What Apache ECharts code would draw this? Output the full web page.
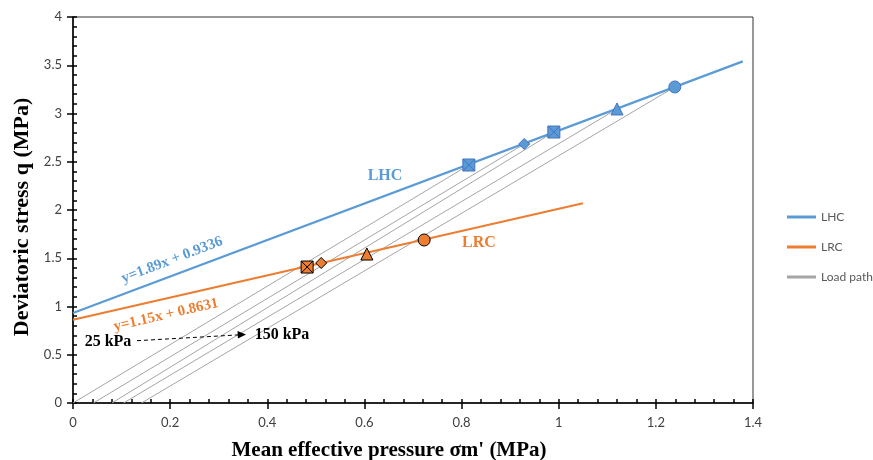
<!DOCTYPE html>
<html>
<head>
<meta charset="utf-8">
<script src="https://cdn.jsdelivr.net/npm/echarts@6/dist/echarts.min.js"></script>
<style>html,body{margin:0;padding:0;background:#fff}#c{width:873px;height:460px}</style>
</head>
<body>
<div id="c"></div>
<script>
// ---- data ----
var xTicks = [0, 0.2, 0.4, 0.6, 0.8, 1, 1.2, 1.4];
var yTicks = [0, 0.5, 1, 1.5, 2, 2.5, 3, 3.5, 4];

// fitted lines (end points)
var lhcLineX = [0, 1.379];
var lhcLineY = [0.9336, 3.540];
var lrcLineX = [0, 1.050];
var lrcLineY = [0.8631, 2.070];

// LHC failure points
var lhcX = [0.815, 0.929, 0.990, 1.120, 1.239];
var lhcY = [2.466, 2.684, 2.808, 3.047, 3.275];
var lhcShape = ['squareX', 'diamond', 'squareX', 'triangle', 'circle'];

// LRC failure points
var lrcX = [0.482, 0.511, 0.605, 0.723];
var lrcY = [1.409, 1.451, 1.544, 1.689];
var lrcShape = ['squareX', 'diamond', 'triangle', 'circle'];

// load paths: start on p axis, end at LHC points
var pathStartX = [0.000, 0.042, 0.080, 0.104, 0.141];
var pathStartY = [0, 0, 0, 0, 0];

var BLUE = '#5B9BD5', ORANGE = '#ED7D31', GRAY = '#A5A5A5';
var SERIF = '"Liberation Serif", "DejaVu Serif", serif';
var SANS = 'Lato, "Liberation Sans", sans-serif';

var squareX = 'path://M0,0L10,0L10,10L0,10Z M0,0L10,10 M10,0L0,10';
function sym(s) { return s === 'squareX' ? squareX : s; }
var symSize = { squareX: 12, diamond: 11, triangle: 12, circle: 12 };

function pairs(xs, ys) { return xs.map(function (x, i) { return [x, ys[i]]; }); }

var series = [];
// load paths live on the twin (minor-tick) axes, which share the same scale
pathStartX.forEach(function (sx, i) {
  series.push({
    name: 'Load path', type: 'line', showSymbol: false, silent: true,
    xAxisIndex: 1, yAxisIndex: 1,
    data: [[sx, pathStartY[i]], [lhcX[i], lhcY[i]]],
    lineStyle: { color: GRAY, width: 1 }, itemStyle: { color: GRAY }, z: 1
  });
});
series.push({
  name: 'LHC', type: 'line', showSymbol: false, data: pairs(lhcLineX, lhcLineY),
  lineStyle: { color: BLUE, width: 2.2 }, itemStyle: { color: BLUE }, z: 2
});
series.push({
  name: 'LRC', type: 'line', showSymbol: false, data: pairs(lrcLineX, lrcLineY),
  lineStyle: { color: ORANGE, width: 2.2 }, itemStyle: { color: ORANGE }, z: 2
});
series.push({
  name: 'LHC pts', type: 'scatter', z: 5,
  data: lhcX.map(function (x, i) {
    return { value: [x, lhcY[i]], symbol: sym(lhcShape[i]), symbolSize: symSize[lhcShape[i]] };
  }),
  itemStyle: { color: BLUE, borderColor: '#4472C4', borderWidth: 1, opacity: 1 }
});
series.push({
  name: 'LRC pts', type: 'scatter', z: 5,
  data: lrcX.map(function (x, i) {
    return { value: [x, lrcY[i]], symbol: sym(lrcShape[i]), symbolSize: symSize[lrcShape[i]] };
  }),
  itemStyle: { color: ORANGE, borderColor: '#000', borderWidth: 1, opacity: 1 }
});

// twin axis whose ticks (inside) act as the minor ticks: 5 per major step
function minorAxis(pos, arr, iv) {
  return {
    type: 'value', position: pos, min: arr[0], max: arr[arr.length - 1], interval: iv / 5,
    axisLine: { show: false, onZero: false }, axisLabel: { show: false }, splitLine: { show: false },
    axisTick: { show: true, inside: true, length: 4, lineStyle: { color: '#000', width: 1.5 } },
    minorTick: { show: false }
  };
}

var chart = echarts.init(document.getElementById('c'), null, { renderer: 'canvas' });
var option = {
  animation: false,
  backgroundColor: '#fff',
  grid: { left: 73, right: 120, top: 17, bottom: 57, outerBoundsMode: 'none', containLabel: false,
    show: true, borderColor: '#333', borderWidth: 1, backgroundColor: 'transparent' },
  legend: {
    orient: 'vertical', left: 782, top: 206, itemGap: 18,
    itemWidth: 29, itemHeight: 3, icon: 'rect',
    data: ['LHC', 'LRC', 'Load path'],
    textStyle: { color: '#595959', fontFamily: SANS, fontSize: 12 }
  },
  xAxis: [{
    type: 'value', position: 'bottom', min: xTicks[0], max: xTicks[xTicks.length - 1], interval: 0.2,
    name: "Mean effective pressure σm' (MPa)", nameLocation: 'middle', nameGap: 37,
    nameTextStyle: { fontFamily: SERIF, fontWeight: 'bold', fontSize: 21, color: '#000', padding: [0, 48, 0, 0] },
    axisLine: { onZero: false, lineStyle: { color: '#000', width: 1.5 } },
    axisTick: { show: true, length: 6, lineStyle: { color: '#000', width: 1.5 } },
    minorTick: { show: false },
    splitLine: { show: false },
    axisLabel: { color: '#404040', fontFamily: SANS, fontSize: 13, margin: 13,
      formatter: function (v) { return String(+v.toFixed(1)); } }
  }, minorAxis('bottom', xTicks, 0.2)],
  yAxis: [{
    type: 'value', position: 'left', min: yTicks[0], max: yTicks[yTicks.length - 1], interval: 0.5,
    name: 'Deviatoric stress q (MPa)', nameLocation: 'middle', nameGap: 32,
    nameTextStyle: { fontFamily: SERIF, fontWeight: 'bold', fontSize: 22, color: '#000', padding: [0, 14, 0, 0] },
    axisLine: { onZero: false, lineStyle: { color: '#000', width: 1.5 } },
    axisTick: { show: true, length: 6, lineStyle: { color: '#000', width: 1.5 } },
    minorTick: { show: false },
    splitLine: { show: false },
    axisLabel: { color: '#404040', fontFamily: SANS, fontSize: 13, margin: 11 }
  }, minorAxis('left', yTicks, 0.5)],
  series: series,
  graphic: [
    { type: 'text', x: 385, y: 176, style: { text: 'LHC', fill: BLUE, font: 'bold 16px ' + SERIF, align: 'center', verticalAlign: 'middle' }, z: 10 },
    { type: 'text', x: 479, y: 243, style: { text: 'LRC', fill: ORANGE, font: 'bold 16px ' + SERIF, align: 'center', verticalAlign: 'middle' }, z: 10 },
    { type: 'text', x: 172, y: 260, rotation: 21 * Math.PI / 180, style: { text: 'y=1.89x + 0.9336', fill: BLUE, font: 'bold 15px ' + SERIF, align: 'center', verticalAlign: 'middle' }, z: 10 },
    { type: 'text', x: 166, y: 315, rotation: 13 * Math.PI / 180, style: { text: 'y=1.15x + 0.8631', fill: ORANGE, font: 'bold 15px ' + SERIF, align: 'center', verticalAlign: 'middle' }, z: 10 },
    { type: 'text', x: 108, y: 342, style: { text: '25 kPa', fill: '#000', font: 'bold 16px ' + SERIF, align: 'center', verticalAlign: 'middle' }, z: 10 },
    { type: 'text', x: 282, y: 335, style: { text: '150 kPa', fill: '#000', font: 'bold 16px ' + SERIF, align: 'center', verticalAlign: 'middle' }, z: 10 },
    { type: 'line', shape: { x1: 137, y1: 340.7, x2: 238, y2: 334.9 }, style: { stroke: '#000', lineWidth: 1, lineDash: [4, 3] }, z: 10 },
    { type: 'polygon', shape: { points: [[246, 334.4], [237.5, 331], [238, 338.6]] }, style: { fill: '#000' }, z: 10 }
  ]
};
chart.setOption(option);
</script>
</body>
</html>
